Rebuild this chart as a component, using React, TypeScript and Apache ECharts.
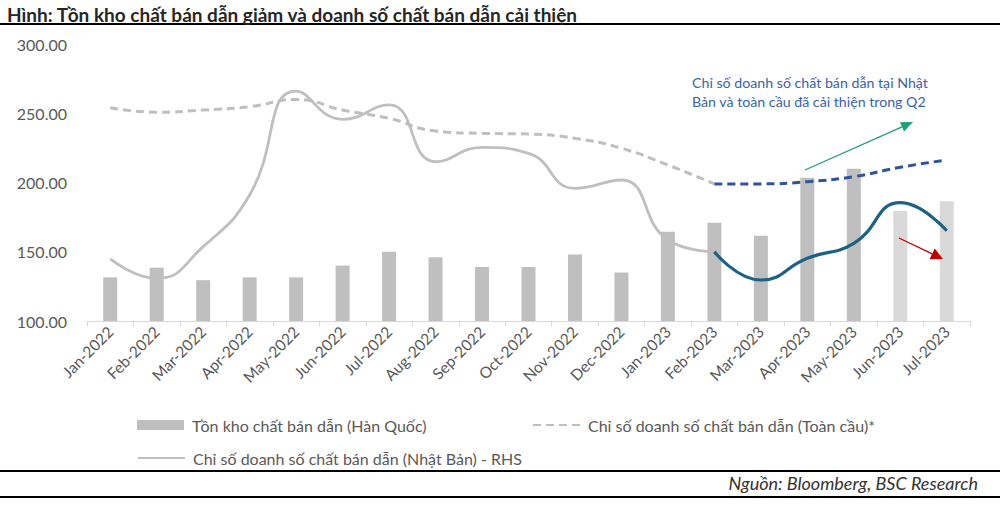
import React, { useEffect, useRef } from "react";
import * as echarts from "echarts";

const categories = [
  "Jan-2022", "Feb-2022", "Mar-2022", "Apr-2022", "May-2022", "Jun-2022",
  "Jul-2022", "Aug-2022", "Sep-2022", "Oct-2022", "Nov-2022", "Dec-2022",
  "Jan-2023", "Feb-2023", "Mar-2023", "Apr-2023", "May-2023", "Jun-2023", "Jul-2023",
];

// Tồn kho chất bán dẫn (Hàn Quốc) – left axis
const koreaInventory = [
  131.5, 138.5, 129.5, 131.5, 131.5, 140, 150, 146, 139, 139, 148, 135,
  164.5, 171, 161.5, 203.5, 210, 179.5, 186.5,
];

// Chỉ số doanh số chất bán dẫn (Toàn cầu)* – left axis
const globalSales = [
  254, 250.7, 252.3, 254.7, 260, 252.3, 246.3, 237.2, 235.5, 235, 231.9, 224.7,
  212.6, 199, 199, 200.6, 204.2, 211, 216.2,
];

// Chỉ số doanh số chất bán dẫn (Nhật Bản) – RHS
const japanSales = [
  144.8, 130.8, 153.7, 191, 266, 245.6, 256, 215, 225.4, 221, 195.8, 201.8,
  158.5, 150, 129.6, 145.3, 156.1, 185.4, 165.2,
];

const yTicks = [100, 300, 50]; // min, max, interval
const highlightFrom = "Feb-2023"; // start of the highlighted (blue) segment
const lightBarsFrom = "Jun-2023";

const NAME_BAR = "Tồn kho chất bán dẫn (Hàn Quốc)";
const NAME_GLOBAL = "Chỉ số doanh số chất bán dẫn (Toàn cầu)*";
const NAME_JAPAN = "Chỉ số doanh số chất bán dẫn (Nhật Bản) - RHS";

const FONT = "Lato, 'Open Sans', sans-serif";

function arrow(x1: number, y1: number, x2: number, y2: number, color: string, headLen: number, headHalf: number) {
  const dx = x2 - x1;
  const dy = y2 - y1;
  const len = Math.sqrt(dx * dx + dy * dy);
  const ux = dx / len;
  const uy = dy / len;
  const bx = x2 - ux * headLen;
  const by = y2 - uy * headLen;
  const nx = -uy;
  const ny = ux;
  return [
    {
      type: "line",
      shape: { x1, y1, x2: bx, y2: by },
      style: { stroke: color, lineWidth: 1.3 },
      z: 100,
    },
    {
      type: "polygon",
      shape: {
        points: [
          [x2, y2],
          [bx + nx * headHalf, by + ny * headHalf],
          [bx - nx * headHalf, by - ny * headHalf],
        ],
      },
      style: { fill: color },
      z: 100,
    },
  ];
}

export default function App() {
  const ref = useRef<HTMLDivElement>(null);

  useEffect(() => {
    if (!ref.current) return;
    const chart = echarts.init(ref.current, undefined, { renderer: "svg" });

    const hi = categories.indexOf(highlightFrom);
    const light = categories.indexOf(lightBarsFrom);

    const globalGray = globalSales.map((v, i) => (i <= hi ? v : "-"));
    const globalBlue = globalSales.map((v, i) => (i >= hi ? v : "-"));
    const japanGray = japanSales.map((v, i) => (i <= hi ? v : "-"));
    const japanBlue = japanSales.map((v, i) => (i >= hi ? v : "-"));

    const barData = koreaInventory.map((v, i) => ({
      value: v,
      itemStyle: { color: i >= light ? "#d9d9d9" : "#bfbfbf" },
    }));

    const legendCommon = {
      orient: "horizontal",
      itemWidth: 47,
      itemHeight: 10,
      textStyle: { fontFamily: FONT, fontSize: 16, color: "#595959", padding: [0, 0, 0, 3] },
      selectedMode: false,
    };
    const lineLegendStyle = { itemStyle: { opacity: 0, borderWidth: 0 } };

    chart.setOption({
      animation: false,
      backgroundColor: "#ffffff",
      title: {
        text: "Hình: Tồn kho chất bán dẫn giảm và doanh số chất bán dẫn cải thiện",
        left: 2,
        top: 0,
        textStyle: { fontFamily: FONT, fontSize: 19, fontWeight: "bold", color: "#262626" },
      },
      grid: { left: 87, right: 30, top: 44, bottom: 186, containLabel: false },
      legend: [
        { ...legendCommon, data: [{ name: NAME_BAR, icon: "rect" }], left: 132, top: 412 },
        { ...legendCommon, ...lineLegendStyle, data: [NAME_GLOBAL], left: 527, top: 412 },
        { ...legendCommon, ...lineLegendStyle, data: [NAME_JAPAN], left: 132, top: 445 },
      ],
      xAxis: {
        type: "category",
        data: categories,
        boundaryGap: true,
        axisLine: { lineStyle: { color: "#d9d9d9", width: 1 } },
        axisTick: { show: true, length: 5, lineStyle: { color: "#d9d9d9" } },
        axisLabel: {
          interval: 0,
          rotate: 45,
          margin: 8,
          fontFamily: FONT,
          fontSize: 15.5,
          color: "#595959",
        },
      },
      yAxis: [
        {
          type: "value",
          min: yTicks[0],
          max: yTicks[1],
          interval: yTicks[2],
          axisLine: { show: false },
          axisTick: { show: false },
          splitLine: { show: false },
          axisLabel: {
            margin: 20,
            fontFamily: FONT,
            fontSize: 16,
            color: "#595959",
            formatter: (v: number) => v.toFixed(2),
          },
        },
        {
          type: "value",
          min: yTicks[0],
          max: yTicks[1],
          interval: yTicks[2],
          show: false,
          splitLine: { show: false },
        },
      ],
      series: [
        {
          name: NAME_BAR,
          type: "bar",
          data: barData,
          barWidth: 14,
          itemStyle: { color: "#bfbfbf" },
        },
        {
          name: NAME_GLOBAL,
          type: "line",
          data: globalGray,
          smooth: 0.5,
          symbol: "none",
          lineStyle: { color: "#bfbfbf", width: 3, type: [8, 5] },
          itemStyle: { color: "#bfbfbf" },
        },
        {
          name: "global-highlight",
          type: "line",
          data: globalBlue,
          smooth: 0.5,
          symbol: "none",
          lineStyle: { color: "#2f5597", width: 3, type: [8, 5] },
          itemStyle: { color: "#2f5597" },
          z: 3,
        },
        {
          name: NAME_JAPAN,
          type: "line",
          yAxisIndex: 1,
          data: japanGray,
          smooth: 0.5,
          symbol: "none",
          lineStyle: { color: "#bfbfbf", width: 2.8 },
          itemStyle: { color: "#bfbfbf" },
        },
        {
          name: "japan-highlight",
          type: "line",
          yAxisIndex: 1,
          data: japanBlue,
          smooth: 0.5,
          symbol: "none",
          lineStyle: { color: "#1e6283", width: 3.2 },
          itemStyle: { color: "#1e6283" },
          z: 3,
        },
      ],
      graphic: [
        { type: "line", shape: { x1: 0, y1: 24, x2: 1000, y2: 24 }, style: { stroke: "#000", lineWidth: 2 } },
        { type: "line", shape: { x1: 0, y1: 471, x2: 1000, y2: 471 }, style: { stroke: "#000", lineWidth: 2 } },
        { type: "line", shape: { x1: 0, y1: 497, x2: 1000, y2: 497 }, style: { stroke: "#000", lineWidth: 2 } },
        {
          type: "text",
          right: 22,
          top: 474,
          style: {
            text: "Nguồn: Bloomberg, BSC Research",
            fontFamily: FONT,
            fontSize: 18,
            fontStyle: "italic",
            fill: "#333333",
          },
        },
        {
          type: "text",
          left: 692,
          top: 73,
          style: {
            text: "Chỉ số doanh số chất bán dẫn tại Nhật\nBản và toàn cầu đã cải thiện trong Q2",
            fontFamily: FONT,
            fontSize: 14.2,
            lineHeight: 19,
            fill: "#3b63a6",
          },
        },
        ...arrow(805, 170, 913, 122, "#1f9c7c", 12, 5),
        ...arrow(899, 238, 943, 259, "#c00000", 12, 6),
      ],
    });

    return () => chart.dispose();
  }, []);

  return (
    <div
      ref={ref}
      style={{ position: "fixed", left: 0, top: 0, width: 1000, height: 507, background: "#fff" }}
    />
  );
}
